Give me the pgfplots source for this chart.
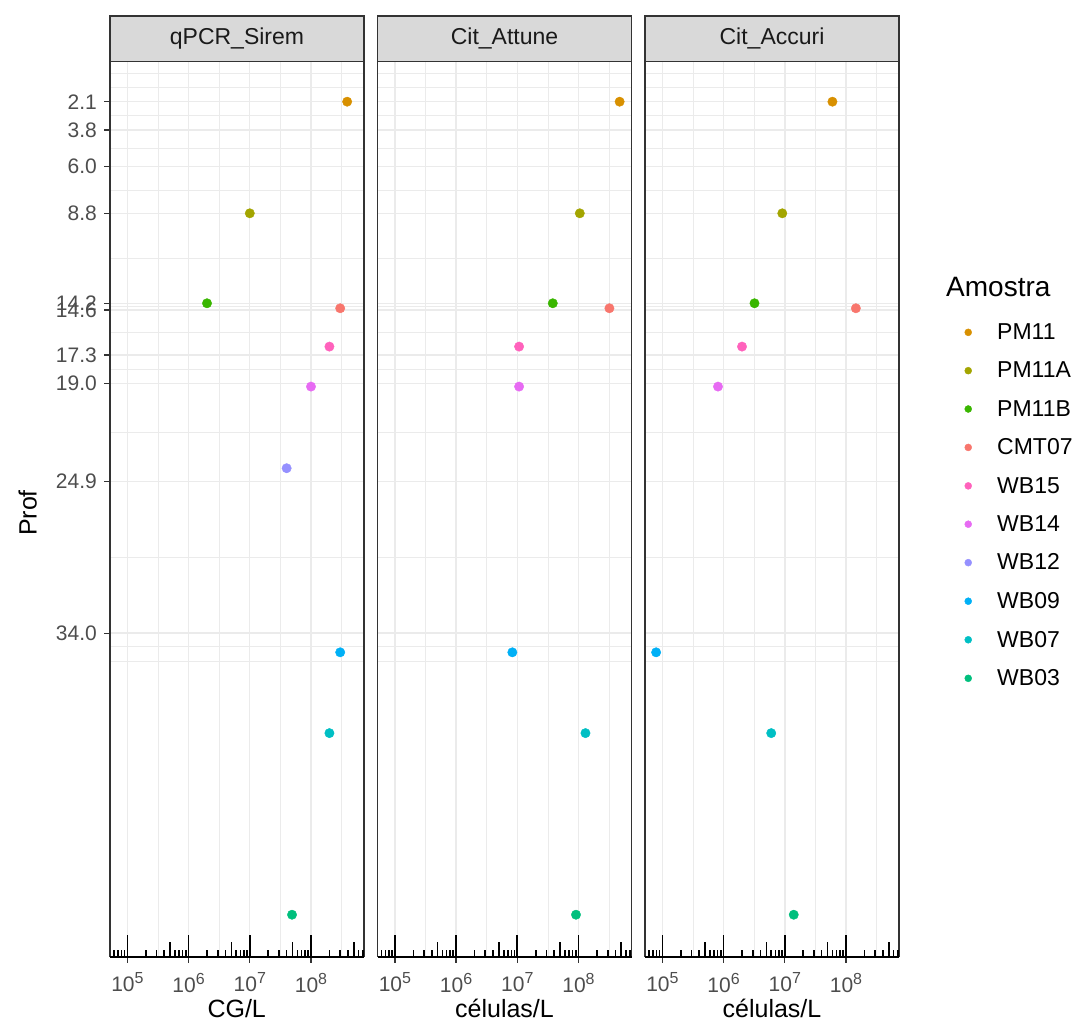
\documentclass[border=0pt]{standalone}
\usepackage{fontspec}
\setmainfont{Liberation Sans}
\usepackage{pgfplots}
\pgfplotsset{compat=1.18}
\definecolor{cPMa}{HTML}{D89000}
\definecolor{cPMb}{HTML}{A3A500}
\definecolor{cPMc}{HTML}{39B600}
\definecolor{cCMT}{HTML}{F8766D}
\definecolor{cWBf}{HTML}{FF62BC}
\definecolor{cWBe}{HTML}{E76BF3}
\definecolor{cWBd}{HTML}{9590FF}
\definecolor{cWBc}{HTML}{00B0F6}
\definecolor{cWBb}{HTML}{00BFC4}
\definecolor{cWBa}{HTML}{00BF7D}
\definecolor{gridc}{HTML}{EBEBEB}
\definecolor{g20}{HTML}{333333}
\definecolor{g30}{HTML}{4D4D4D}
\definecolor{g85}{HTML}{D9D9D9}
\definecolor{g10}{HTML}{1A1A1A}
\newcommand{\tsz}{\fontsize{21}{25}\selectfont}
\newcommand{\ssz}{\fontsize{23}{27}\selectfont}
\newcommand{\asz}{\fontsize{25}{30}\selectfont}
\newcommand{\lsz}{\fontsize{23}{27}\selectfont}
\newcommand{\Lsz}{\fontsize{28}{33}\selectfont}
\newcommand{\ten}[1]{10\raisebox{8pt}{\fontsize{16}{16}\selectfont #1}}
\begin{document}
\begin{tikzpicture}
\useasboundingbox (0pt,0pt) rectangle (1078pt,1022pt);
% ---------- panel 1
\begin{axis}[at={(110pt,65.3pt)}, anchor=south west,
    scale only axis, width=254pt, height=895pt,
    xmode=log, xmin=5.2e4, xmax=7.35e8,
    y dir=reverse, ymin=-0.3, ymax=53.42,
    axis line style={g20, line width=1.3pt},
    xtick={1e5,1e6,1e7,1e8},
    xticklabels={\ten{5},\ten{6},\ten{7},\ten{8}},
    minor xtick={3.1623e5,3.1623e6,3.1623e7,3.1623e8},
    ytick={2.1,3.8,6.0,8.8,14.2,14.6,17.3,19.0,24.9,34.0},
    yticklabels={2.1,3.8,6.0,8.8,14.2,14.6,17.3,19.0,24.9,34.0},
    minor ytick={0.4,1.25,2.95,4.9,7.4,11.5,14.4,15.95,18.15,21.95,29.45,34.8,35.7},
    grid=both,
    major grid style={gridc, line width=1.4pt},
    minor grid style={gridc, line width=0.7pt},
    tick align=outside, major tick length=6pt, minor tick length=0pt,
    xtick pos=left, ytick pos=left,
    every tick/.append style={g20, line width=1.3pt},
    xticklabel style={font=\tsz, text=g30, inner sep=0pt, yshift=-10pt},
    yticklabel style={font=\tsz, text=g30, inner sep=0pt, xshift=-7pt}]
\addplot[only marks, mark=*, mark size=4.7pt, color=cPMa] coordinates {(3.9e8,2.1)};
\addplot[only marks, mark=*, mark size=4.7pt, color=cPMb] coordinates {(1.0e7,8.8)};
\addplot[only marks, mark=*, mark size=4.7pt, color=cPMc] coordinates {(2.0e6,14.2)};
\addplot[only marks, mark=*, mark size=4.7pt, color=cCMT] coordinates {(3.0e8,14.5)};
\addplot[only marks, mark=*, mark size=4.7pt, color=cWBf] coordinates {(2.0e8,16.8)};
\addplot[only marks, mark=*, mark size=4.7pt, color=cWBe] coordinates {(1.0e8,19.2)};
\addplot[only marks, mark=*, mark size=4.7pt, color=cWBd] coordinates {(4.0e7,24.1)};
\addplot[only marks, mark=*, mark size=4.7pt, color=cWBc] coordinates {(3.0e8,35.15)};
\addplot[only marks, mark=*, mark size=4.7pt, color=cWBb] coordinates {(2.0e8,40.0)};
\addplot[only marks, mark=*, mark size=4.7pt, color=cWBa] coordinates {(4.9e7,50.9)};
\end{axis}
% ---------- panel 2
\begin{axis}[at={(377.5pt,65.3pt)}, anchor=south west,
    scale only axis, width=254pt, height=895pt,
    xmode=log, xmin=5.2e4, xmax=7.35e8,
    y dir=reverse, ymin=-0.3, ymax=53.42,
    axis line style={g20, line width=1.3pt},
    xtick={1e5,1e6,1e7,1e8},
    xticklabels={\ten{5},\ten{6},\ten{7},\ten{8}},
    minor xtick={3.1623e5,3.1623e6,3.1623e7,3.1623e8},
    ytick={2.1,3.8,6.0,8.8,14.2,14.6,17.3,19.0,24.9,34.0},
    yticklabels={},
    minor ytick={0.4,1.25,2.95,4.9,7.4,11.5,14.4,15.95,18.15,21.95,29.45,34.8,35.7},
    grid=both,
    major grid style={gridc, line width=1.4pt},
    minor grid style={gridc, line width=0.7pt},
    tick align=outside, major tick length=6pt, minor tick length=0pt,
    xtick pos=left, ytick pos=left,
    every tick/.append style={g20, line width=1.3pt},
    every y tick/.append style={draw=none},
    xticklabel style={font=\tsz, text=g30, inner sep=0pt, yshift=-10pt}]
\addplot[only marks, mark=*, mark size=4.7pt, color=cPMa] coordinates {(4.7e8,2.1)};
\addplot[only marks, mark=*, mark size=4.7pt, color=cPMb] coordinates {(1.05e8,8.8)};
\addplot[only marks, mark=*, mark size=4.7pt, color=cPMc] coordinates {(3.8e7,14.2)};
\addplot[only marks, mark=*, mark size=4.7pt, color=cCMT] coordinates {(3.2e8,14.5)};
\addplot[only marks, mark=*, mark size=4.7pt, color=cWBf] coordinates {(1.07e7,16.8)};
\addplot[only marks, mark=*, mark size=4.7pt, color=cWBe] coordinates {(1.07e7,19.2)};
\addplot[only marks, mark=*, mark size=4.7pt, color=cWBc] coordinates {(8.3e6,35.15)};
\addplot[only marks, mark=*, mark size=4.7pt, color=cWBb] coordinates {(1.3e8,40.0)};
\addplot[only marks, mark=*, mark size=4.7pt, color=cWBa] coordinates {(9.1e7,50.9)};
\end{axis}
% ---------- panel 3
\begin{axis}[at={(645pt,65.3pt)}, anchor=south west,
    scale only axis, width=254pt, height=895pt,
    xmode=log, xmin=5.2e4, xmax=7.35e8,
    y dir=reverse, ymin=-0.3, ymax=53.42,
    axis line style={g20, line width=1.3pt},
    xtick={1e5,1e6,1e7,1e8},
    xticklabels={\ten{5},\ten{6},\ten{7},\ten{8}},
    minor xtick={3.1623e5,3.1623e6,3.1623e7,3.1623e8},
    ytick={2.1,3.8,6.0,8.8,14.2,14.6,17.3,19.0,24.9,34.0},
    yticklabels={},
    minor ytick={0.4,1.25,2.95,4.9,7.4,11.5,14.4,15.95,18.15,21.95,29.45,34.8,35.7},
    grid=both,
    major grid style={gridc, line width=1.4pt},
    minor grid style={gridc, line width=0.7pt},
    tick align=outside, major tick length=6pt, minor tick length=0pt,
    xtick pos=left, ytick pos=left,
    every tick/.append style={g20, line width=1.3pt},
    every y tick/.append style={draw=none},
    xticklabel style={font=\tsz, text=g30, inner sep=0pt, yshift=-10pt},
    legend style={at={(axis description cs:1.2579,0.7075)}, anchor=north west,
      draw=none, fill=none, font=\lsz, inner sep=0pt, row sep=21pt, column sep=25.5pt,
      nodes={inner sep=0pt}},
    legend cell align=left,
    legend image code/.code={\draw[#1, mark size=3.5pt] plot coordinates {(0pt,0pt)};}]
\addplot[only marks, mark=*, mark size=4.7pt, color=cPMa] coordinates {(6.0e7,2.1)};
\addlegendentry{PM11}
\addplot[only marks, mark=*, mark size=4.7pt, color=cPMb] coordinates {(9.1e6,8.8)};
\addlegendentry{PM11A}
\addplot[only marks, mark=*, mark size=4.7pt, color=cPMc] coordinates {(3.2e6,14.2)};
\addlegendentry{PM11B}
\addplot[only marks, mark=*, mark size=4.7pt, color=cCMT] coordinates {(1.45e8,14.5)};
\addlegendentry{CMT07}
\addplot[only marks, mark=*, mark size=4.7pt, color=cWBf] coordinates {(2.0e6,16.8)};
\addlegendentry{WB15}
\addplot[only marks, mark=*, mark size=4.7pt, color=cWBe] coordinates {(8.1e5,19.2)};
\addlegendentry{WB14}
\addlegendimage{only marks, mark=*, mark size=4.7pt, color=cWBd}
\addlegendentry{WB12}
\addplot[only marks, mark=*, mark size=4.7pt, color=cWBc] coordinates {(7.9e4,35.15)};
\addlegendentry{WB09}
\addplot[only marks, mark=*, mark size=4.7pt, color=cWBb] coordinates {(6.0e6,40.0)};
\addlegendentry{WB07}
\addplot[only marks, mark=*, mark size=4.7pt, color=cWBa] coordinates {(1.4e7,50.9)};
\addlegendentry{WB03}
\end{axis}
% ---------- log ticks (annotation) overlays
\foreach \px in {110,377.5,645} {
\begin{axis}[at={(\px pt,65.3pt)}, anchor=south west,
    scale only axis, width=254pt, height=895pt,
    xmode=log, xmin=5.2e4, xmax=7.35e8,
    ymin=0, ymax=1, hide y axis, axis x line*=bottom,
    axis line style={black, line width=1.8pt},
    xtick={1e5,1e6,1e7,1e8}, xticklabels={},
    minor xtick={6e4,7e4,8e4,9e4,2e5,3e5,4e5,6e5,7e5,8e5,9e5,2e6,3e6,4e6,6e6,7e6,8e6,9e6,2e7,3e7,4e7,6e7,7e7,8e7,9e7,2e8,3e8,4e8,6e8,7e8},
    extra x ticks={5e5,5e6,5e7,5e8}, extra x tick labels={},
    extra x tick style={major tick length=14.4pt},
    tick align=inside, major tick length=21.7pt, minor tick length=7.2pt,
    xtick pos=left,
    every tick/.append style={black, line width=1.6pt}]
\end{axis}
}
% ---------- strips
\foreach \x/\t in {110/qPCR\_Sirem, 377.5/Cit\_Attune, 645/Cit\_Accuri} {
  \draw[g20, fill=g85, line width=1.3pt] (\x pt,960.3pt) rectangle ++(254pt,45.7pt);
  \node[text=g10, font=\ssz] at (\x pt+127pt, 983.2pt) {\t};
}
% ---------- titles
\node[font=\asz, anchor=base] at (236.7pt,5pt) {CG/L};
\node[font=\asz, anchor=base] at (504.5pt,5pt) {células/L};
\node[font=\asz, anchor=base] at (772pt,5pt) {células/L};
\node[font=\asz, anchor=base, rotate=90] at (36.5pt,509pt) {Prof};
\node[font=\Lsz, anchor=west, inner sep=0pt] at (946pt,735pt) {Amostra};
\end{tikzpicture}
\end{document}
